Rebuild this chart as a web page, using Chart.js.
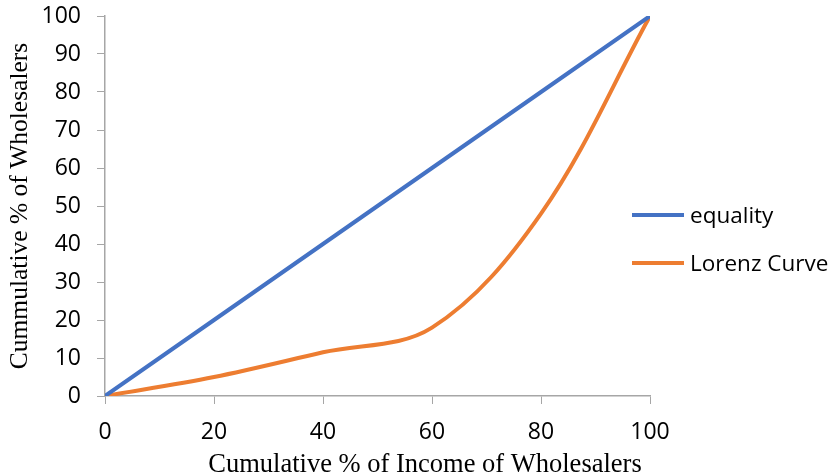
<!DOCTYPE html>
<html>
<head>
<meta charset="utf-8">
<script src="https://cdn.jsdelivr.net/npm/chart.js@4/dist/chart.umd.min.js"></script>
<style>
  body { margin: 0; background: #fff; }
  .wrap { position: relative; width: 834px; height: 476px; }
  canvas { display: block; }
  .legend { position: absolute; left: 632px; top: 0; font-family: 'Open Sans', sans-serif; font-size: 22.5px; color: #000; }
  .legend .item { position: absolute; white-space: nowrap; display: flex; align-items: center; line-height: 30px; }
  .legend .swatch { display: inline-block; width: 52px; height: 4px; margin-right: 6px; }
</style>
</head>
<body>
<div class="wrap">
  <canvas id="lorenzChart" width="834" height="476"></canvas>
  <div class="legend">
    <div class="item" style="top:200px"><span class="swatch" style="background:#4472C4"></span>equality</div>
    <div class="item" style="top:248px"><span class="swatch" style="background:#ED7D31"></span>Lorenz Curve</div>
  </div>
</div>
<script>
// Data
const incomePct = [0, 20, 40, 60, 80, 100];
const equality = [0, 20, 40, 60, 80, 100];
const lorenz = [0, 5, 11.5, 18, 48, 100];
const xTicks = [0, 20, 40, 60, 80, 100];
const yTicks = [0, 10, 20, 30, 40, 50, 60, 70, 80, 90, 100];

const toPoints = (ys) => incomePct.map((x, i) => ({ x: x, y: ys[i] }));

// x axis title drawn centred on the page like the original
const xTitlePlugin = {
    id: 'xTitle',
    afterDraw(chart) {
        const c = chart.ctx;
        c.save();
        c.font = '26.5px "Liberation Serif", serif';
        c.fillStyle = '#000';
        c.textAlign = 'center';
        c.textBaseline = 'alphabetic';
        c.fillText('Cumulative % of Income of Wholesalers', 425, 472);
        c.restore();
    }
};

const axisGrey = '#a6a6a6';
const tickFont = { family: "'Open Sans', sans-serif", size: 23, lineHeight: 1 };

const ctx = document.getElementById('lorenzChart').getContext('2d');
const lorenzChart = new Chart(ctx, {
    type: 'scatter',
    data: {
        datasets: [{
            label: 'equality',
            data: toPoints(equality),
            showLine: true,
            borderColor: '#4472C4',
            backgroundColor: '#4472C4',
            borderWidth: 4,
            pointRadius: 0,
            tension: 0
        }, {
            label: 'Lorenz Curve',
            data: toPoints(lorenz),
            showLine: true,
            borderColor: '#ED7D31',
            backgroundColor: '#ED7D31',
            borderWidth: 4,
            pointRadius: 0,
            tension: 0.35
        }]
    },
    options: {
        responsive: false,
        animation: false,
        layout: { padding: { top: 16, right: 184, left: 0, bottom: 0 } },
        plugins: {
            legend: { display: false },
            tooltip: { enabled: false }
        },
        scales: {
            x: {
                type: 'linear',
                min: 0,
                max: 100,
                afterBuildTicks: (s) => { s.ticks = xTicks.map(v => ({ value: v })); },
                afterFit: (s) => { s.height = 80; s.paddingLeft = 0; s.paddingRight = 0; },
                ticks: { color: '#000', font: tickFont, padding: 17, maxRotation: 0 },
                grid: { drawOnChartArea: false, color: axisGrey, tickLength: 8 },
                border: { color: axisGrey, width: 1.5 }
            },
            y: {
                min: 0,
                max: 100,
                afterBuildTicks: (s) => { s.ticks = yTicks.map(v => ({ value: v })); },
                afterFit: (s) => { s.width = 105; s.paddingTop = 0; s.paddingBottom = 0; },
                ticks: { color: '#000', font: tickFont, padding: 16 },
                grid: { drawOnChartArea: false, color: axisGrey, tickLength: 8 },
                border: { color: axisGrey, width: 1.5 },
                title: {
                    display: true,
                    text: 'Cummulative % of Wholesalers',
                    color: '#000',
                    font: { family: "'Liberation Serif', serif", size: 25.5 },
                    padding: { top: 5, bottom: 0 }
                }
            }
        }
    },
    plugins: [xTitlePlugin]
});
</script>
</body>
</html>
